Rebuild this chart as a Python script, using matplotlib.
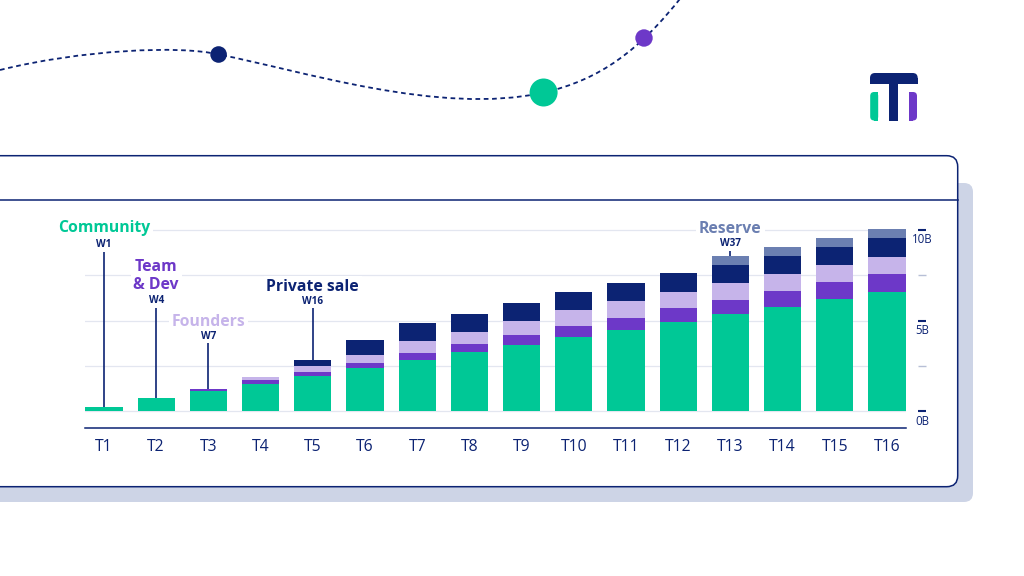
import numpy as np
import matplotlib
matplotlib.use("Agg")
import matplotlib.pyplot as plt
import matplotlib.transforms as mtransforms
from matplotlib.patches import FancyBboxPatch, Rectangle, Circle, PathPatch
from matplotlib.path import Path

# token allocation, in billions, per period
periods = [f"T{i}" for i in range(1, 17)]
community = [0.25, 0.73, 1.12, 1.52, 1.97, 2.41, 2.84, 3.26, 3.67, 4.09, 4.51, 4.94, 5.34, 5.76, 6.19, 6.59]
team_dev = [0, 0, 0.12, 0.19, 0.22, 0.28, 0.37, 0.44, 0.53, 0.59, 0.66, 0.74, 0.81, 0.87, 0.94, 1.01]
founders = [0, 0, 0, 0.18, 0.33, 0.42, 0.65, 0.66, 0.76, 0.88, 0.92, 0.92, 0.90, 0.92, 0.92, 0.92]
private_sale = [0, 0, 0, 0, 0.33, 0.85, 1.03, 1.03, 1.03, 1.01, 1.01, 1.01, 1.03, 1.03, 1.02, 1.03]
reserve = [0, 0, 0, 0, 0, 0, 0, 0, 0, 0, 0, 0, 0.50, 0.50, 0.51, 0.50]

y_ticks = [0, 2.5, 5, 7.5, 10]
y_tick_labels = {0: "0B", 5: "5B", 10: "10B"}

# series name, week label, period index where it starts
callout_names = ["Community", "Team\n& Dev", "Founders", "Private sale", "Reserve"]
callout_weeks = ["W1", "W4", "W7", "W16", "W37"]
callout_period = [0, 1, 2, 4, 12]

GREEN = "#00c896"
PURPLE = "#6d38c8"
LAVENDER = "#c6b4ea"
NAVY = "#0c2373"
RESERVE = "#6b7fb1"
GRID = "#e3e6f0"
SHADOW = "#cdd4e6"

series = [community, team_dev, founders, private_sale, reserve]
colors = [GREEN, PURPLE, LAVENDER, NAVY, RESERVE]

fig = plt.figure(figsize=(10.24, 5.76), dpi=100)

# background layer in pixel coordinates
bg = fig.add_axes([0, 0, 1, 1], zorder=0)
bg.set_xlim(0, 1024)
bg.set_ylim(576, 0)
bg.axis("off")

# card and its shadow
bg.add_patch(FancyBboxPatch((-30, 183), 1003, 319, boxstyle="round,pad=0,rounding_size=9",
                            fc=SHADOW, ec="none"))
bg.add_patch(FancyBboxPatch((-30, 155.7), 987.7, 331, boxstyle="round,pad=0,rounding_size=11",
                            fc="white", ec=NAVY, lw=1.1))
bg.plot([0, 957.7], [200, 200], color=NAVY, lw=1.1)

# dashed decorative curve with dots
verts = [(0, 70), (80, 50), (180, 45), (218.6, 54.5),
         (300, 70), (440, 116), (543.6, 92.5),
         (600, 80), (640, 50), (683, -5)]
codes = [Path.MOVETO] + [Path.CURVE4] * 9
bg.add_patch(PathPatch(Path(verts, codes), fill=False, ec=NAVY, lw=1.3,
                       linestyle=(0, (2.6, 2.0))))
bg.add_patch(Circle((218.6, 54.5), 8.3, fc=NAVY, ec="none", zorder=3))
bg.add_patch(Circle((543.6, 92.5), 14, fc=GREEN, ec="none", zorder=3))
bg.add_patch(Circle((644, 38), 8.7, fc=PURPLE, ec="none", zorder=3))

# logo
bg.add_patch(FancyBboxPatch((870, 73), 47.7, 10.5, boxstyle="round,pad=0,rounding_size=5",
                            fc=NAVY, ec="none"))
bg.add_patch(Rectangle((870, 78), 47.7, 5.5, fc=NAVY, ec="none"))
bg.add_patch(Rectangle((888.8, 80), 8.8, 41, fc=NAVY, ec="none"))
bg.add_patch(FancyBboxPatch((870.2, 92), 8, 28.5, boxstyle="round,pad=0,rounding_size=4",
                            fc=GREEN, ec="none"))
bg.add_patch(Rectangle((874.2, 92), 4, 28.5, fc=GREEN, ec="none"))
bg.add_patch(FancyBboxPatch((909, 92), 8, 28.5, boxstyle="round,pad=0,rounding_size=4",
                            fc=PURPLE, ec="none"))
bg.add_patch(Rectangle((909, 92), 4, 28.5, fc=PURPLE, ec="none"))

# main chart axes, placed in pixels
ppu = 18.13          # pixels per billion
y_bottom, y_top = -0.94, 10.2
px_left, px_right, px_base = 85.3, 905.7, 411.3
px_axis = px_base - y_bottom * ppu
height_px = (y_top - y_bottom) * ppu
ax = fig.add_axes([px_left / 1024, (576 - px_axis) / 576,
                   (px_right - px_left) / 1024, height_px / 576], zorder=2)
ax.patch.set_alpha(0)

x = np.arange(len(periods))
width = 0.715
ax.set_xlim(-width / 2, len(periods) - 1 + width / 2)
ax.set_ylim(y_bottom, y_top)

for v in y_ticks:
    ax.axhline(v, color=GRID, lw=0.9, zorder=0)

bottom = np.zeros(len(periods))
for vals, c in zip(series, colors):
    vals = np.array(vals)
    ax.bar(x, vals, width=width, bottom=bottom, color=c, lw=0, zorder=2)
    bottom += vals
totals = bottom

for s in ["top", "left", "right"]:
    ax.spines[s].set_visible(False)
ax.spines["bottom"].set_color(NAVY)
ax.spines["bottom"].set_linewidth(1.1)
ax.set_yticks([])
ax.set_xticks(x, periods)
ax.tick_params(axis="x", length=0, pad=8, labelsize=11.3, labelcolor=NAVY)
for lab in ax.get_xticklabels():
    lab.set_fontfamily("Open Sans")

# right-hand value ticks, detached from the plot
trans = mtransforms.blended_transform_factory(ax.transAxes, ax.transData)
for v in y_ticks:
    major = v in y_tick_labels
    ax.plot([1.0146, 1.0247], [v, v], transform=trans, clip_on=False,
            color=NAVY if major else "#b7bfd6", lw=1.5 if major else 1.0,
            solid_capstyle="butt")
    if major:
        ax.annotate(y_tick_labels[v], xy=(1.0198, v), xycoords=trans,
                    xytext=(0, -7), textcoords="offset points", ha="center", va="center",
                    fontsize=8.3, color=NAVY, family="Open Sans", annotation_clip=False)

# callouts: name, week tag and leader line down to the first bar of each series
name_y = [10.11, 7.47, 4.93, 6.87, 10.08]
week_y = [9.21, 6.10, 4.15, 6.08, 9.24]
line_top = [8.79, 5.70, 3.77, 5.70, 8.86]
for i, (name, wk, p) in enumerate(zip(callout_names, callout_weeks, callout_period)):
    ax.text(p, name_y[i], name, ha="center", va="center", fontsize=11.3,
            fontweight="bold", family="Open Sans", color=colors[i], linespacing=1.2,
            zorder=4, clip_on=False,
            bbox=dict(fc="white", ec="none", pad=2.0))
    ax.text(p, week_y[i], wk, ha="center", va="center", fontsize=7.2,
            fontweight="bold", family="Open Sans", color=NAVY, zorder=4, clip_on=False)
    ax.plot([p, p], [totals[p], line_top[i]], color=NAVY, lw=1.2, zorder=3,
            clip_on=False, solid_capstyle="butt")

fig.savefig("out.png", dpi=100)
